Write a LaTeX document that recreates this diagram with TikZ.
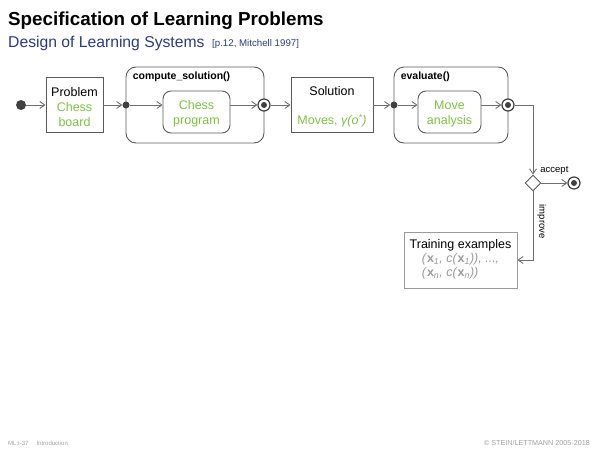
\documentclass[tikz,border=0pt]{standalone}
\usepackage{fontspec}
\setmainfont{Liberation Sans}
\usetikzlibrary{arrows.meta,shapes.geometric,calc}
\definecolor{lgreen}{HTML}{7CC242}
\definecolor{subblue}{HTML}{2B3A84}
\definecolor{linegray}{HTML}{6E6E6E}
\definecolor{boxgray}{HTML}{5A5A5A}
\definecolor{dotgray}{HTML}{404040}
\definecolor{txtgray}{HTML}{9A9A9A}
\definecolor{footgray}{HTML}{A0A0A0}
\newcommand{\fs}[2]{\fontsize{#1}{#2}\selectfont}
\newcommand{\bx}{\textup{\textbf{x}}}
\begin{document}
\begin{tikzpicture}[x=1pt,y=-1pt,
  conn/.style={draw=linegray, line width=0.9pt},
  arr/.style={conn, -{Straight Barb[length=5pt,width=7pt]}},
  boxn/.style={draw=boxgray, line width=0.9pt, rectangle, align=center, inner sep=0pt, font=\fs{12.5}{15}},
  rboxn/.style={boxn, rounded corners=#1},
  rboxn/.default=10pt,
  startdot/.style={circle, fill=dotgray, minimum size=10pt, inner sep=0pt},
  smalldot/.style={circle, fill=dotgray, minimum size=7pt, inner sep=0pt},
  endnode/.style={circle, draw=dotgray, fill=white, line width=1.2pt, minimum size=12pt, inner sep=0pt,
    path picture={\fill[dotgray] (path picture bounding box.center) circle (3pt);}},
  choice/.style={diamond, draw=boxgray, fill=white, line width=0.9pt, minimum width=16pt, minimum height=16pt, inner sep=0pt},
  lbl/.style={font=\bfseries\fs{10.5}{12}, anchor=north west, inner sep=0pt},
  small/.style={font=\fs{9.5}{11}, inner sep=0pt},
  foot/.style={font=\fs{6}{7}, text=footgray, inner sep=0pt}
]
\useasboundingbox (0,0) rectangle (600,450);

% titles
\node[anchor=base west, inner sep=0pt, font=\bfseries\fs{18.8}{20}] (title) at (8,25) {Specification of Learning Problems};
\node[anchor=base west, inner sep=0pt, font=\fs{15.7}{17}, text=subblue] (sub) at (8,47) {Design of Learning Systems};
\node[anchor=base west, inner sep=0pt, font=\fs{9.7}{11}, text=subblue] (ref) at (212,46) {[p.12, Mitchell 1997]};

% containers
\node[rboxn, minimum width=138pt, minimum height=76pt] (cs) at (195,105) {};
\node[lbl] (cslbl) at ([xshift=7pt,yshift=-5pt]cs.north west) {compute\_solution()};
\node[rboxn, minimum width=114pt, minimum height=76pt] (ev) at (451,105) {};
\node[lbl] (evlbl) at ([xshift=7pt,yshift=-5pt]ev.north west) {evaluate()};

% nodes
\node[startdot] (start) at (21,105) {};
\node[boxn, minimum width=57pt, minimum height=55pt] (prob) at (74.5,105)
  {\rule{0pt}{13.5pt}Problem\\ \textcolor{lgreen}{Chess}\\ \textcolor{lgreen}{board}};
\node[rboxn=8pt, minimum width=67pt, minimum height=42pt, text=lgreen] (cp) at (196.5,112) {\rule{0pt}{13.5pt}Chess\\ program};
\node[smalldot] (d1) at (126,105) {};
\node[endnode] (e1) at (264,105) {};
\node[boxn, minimum width=82pt, minimum height=55pt] (sol) at (332,105)
  {\rule{0pt}{12.5pt}Solution\\[14pt] \textcolor{lgreen}{Moves, \textit{γ(o\textsuperscript{*})}}};
\node[smalldot] (d2) at (394,105) {};
\node[rboxn=8pt, minimum width=63pt, minimum height=42pt, text=lgreen] (ma) at (449.5,112) {\rule{0pt}{13.5pt}Move\\ analysis};
\node[endnode] (e2) at (508,105) {};
\node[choice] (dec) at (533,183) {};
\node[endnode] (e3) at (574,183) {};
\node[boxn, draw=txtgray, minimum width=113pt, minimum height=56pt] (train) at (460.5,260)
  {Training examples\\
   \textcolor{txtgray}{\itshape\begin{tabular}{@{}l@{}}
   (\bx\textsubscript{1}, c(\bx\textsubscript{1})), ...,\\[-1pt]
   (\bx\textsubscript{n}, c(\bx\textsubscript{n}))
   \end{tabular}}};

% connectors
\draw[arr] (start) -- (prob);
\draw[arr] (prob) -- (d1);
\draw[arr] (d1) -- (d1 -| cp.west);
\draw[arr] (cp.east |- e1) -- (e1);
\draw[arr] (e1) -- (sol);
\draw[arr] (sol) -- (d2);
\draw[arr] (d2) -- (d2 -| ma.west);
\draw[arr] (ma.east |- e2) -- (e2);
\draw[arr] (e2) -| (dec);
\draw[arr] (dec) -- (e3) node[small, midway, above=8pt] (acc) {accept};
\draw[arr] (dec) |- (train) node[pos=0.22, small, rotate=-90, anchor=south, yshift=4pt] (imp) {improve};

% footer
\node[foot, anchor=base west] (f1) at (8,445) {ML:I-37\hspace{8pt}Introduction};
\node[foot, anchor=base east, font=\fs{7.2}{8}] (f2) at (590,445) {© STEIN/LETTMANN 2005-2018};
\end{tikzpicture}
\end{document}
